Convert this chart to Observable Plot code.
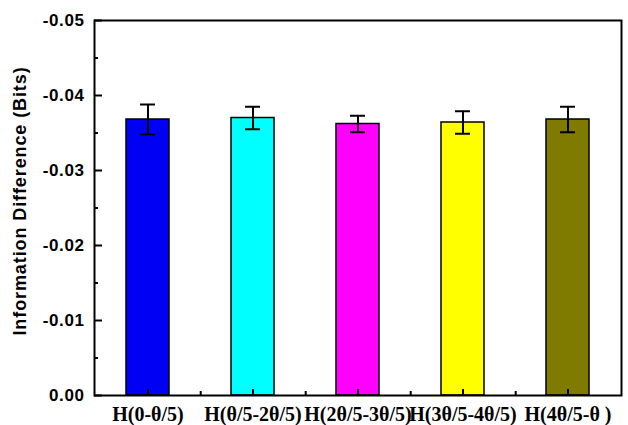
<!DOCTYPE html>
<html>
<head>
<meta charset="utf-8">
<script src="https://cdn.jsdelivr.net/npm/d3@7"></script>
<script src="https://cdn.jsdelivr.net/npm/@observablehq/plot@0.6"></script>
<style>
  html, body { margin: 0; padding: 0; background: #fff; }
  #chart g[aria-label="y-axis tick label"] {
    font-family: 'Liberation Sans', Arial, sans-serif;
    font-size: 17px; font-weight: bold; letter-spacing: 0.6px;
  }
  #chart g[aria-label="y-axis label"] {
    font-family: 'Liberation Sans', Arial, sans-serif;
    font-size: 18px; font-weight: bold; letter-spacing: 0.9px;
  }
  #chart g[aria-label="x-axis tick label"] {
    font-family: 'Liberation Serif', 'Times New Roman', serif;
    font-size: 20px; font-weight: bold;
  }
</style>
</head>
<body>
<div id="chart"></div>
<script>
const categories = ["H(0-θ/5)", "H(θ/5-2θ/5)", "H(2θ/5-3θ/5)", "H(3θ/5-4θ/5)", "H(4θ/5-θ )"];
const values = [-0.0368, -0.0370, -0.0362, -0.0364, -0.0368];
const errors = [0.0020, 0.0015, 0.0011, 0.0015, 0.0017];
const colors = ["#0000F5", "#00FFFF", "#FF00FF", "#FFFF00", "#7F7B00"];
const yMajorTicks = [0, -0.01, -0.02, -0.03, -0.04, -0.05];
const yMinorTicks = [-0.005, -0.015, -0.025, -0.035, -0.045];
const yLabel = "Information Difference (Bits)";

const data = categories.map((c, i) => ({
  cat: c, value: values[i], err: errors[i], color: colors[i],
  lo: values[i] + errors[i], hi: values[i] - errors[i]
}));

const W = 628, H = 425;
const mL = 94, mR = 7, mT = 20, mB = 30;
const halfStep = (W - mL - mR) / categories.length / 2;

const chart = Plot.plot({
  width: W, height: H,
  marginLeft: mL, marginRight: mR, marginTop: mT, marginBottom: mB,
  style: { background: "#fff", color: "#000" },
  x: { domain: categories, paddingInner: 0.59, paddingOuter: 0.295, axis: null },
  y: { domain: [0, -0.05], axis: null },
  color: { type: "identity" },
  marks: [
    Plot.barY(data, { x: "cat", y1: 0, y2: "value", fill: "color", stroke: "#000", strokeWidth: 1.5 }),
    Plot.ruleX(data, { x: "cat", y1: "lo", y2: "hi", stroke: "#000", strokeWidth: 2 }),
    Plot.tickY(data, { x: "cat", y: "hi", insetLeft: 14, insetRight: 14, stroke: "#000", strokeWidth: 2 }),
    Plot.tickY(data, { x: "cat", y: "lo", insetLeft: 14, insetRight: 14, stroke: "#000", strokeWidth: 2 }),
    Plot.frame({ stroke: "#000", strokeWidth: 2 }),
    Plot.axisY(yMajorTicks, {
      anchor: "left", tickSize: 0, tickPadding: 10,
      tickFormat: d => d.toFixed(2),
      label: yLabel, labelAnchor: "center", labelArrow: "none", labelOffset: 81
    }),
    Plot.axisY(yMajorTicks, { anchor: "left", tickSize: 8, dx: 8, fill: "none", strokeWidth: 2 }),
    Plot.axisY(yMinorTicks, { anchor: "left", tickSize: 4, dx: 4, fill: "none", strokeWidth: 2 }),
    Plot.axisX({ anchor: "bottom", tickSize: 0, tickPadding: 11, label: null }),
    Plot.axisX({ anchor: "bottom", tickSize: 6, dy: -6, fill: "none", strokeWidth: 2 }),
    Plot.axisX(categories.slice(0, -1), { anchor: "bottom", tickSize: 4, dy: -4, dx: halfStep, fill: "none", strokeWidth: 2 })
  ]
});

document.getElementById("chart").append(chart);
chart.querySelectorAll("text").forEach(t => {
  if (t.textContent === yLabel) t.setAttribute("dx", "7");
});
</script>
</body>
</html>
